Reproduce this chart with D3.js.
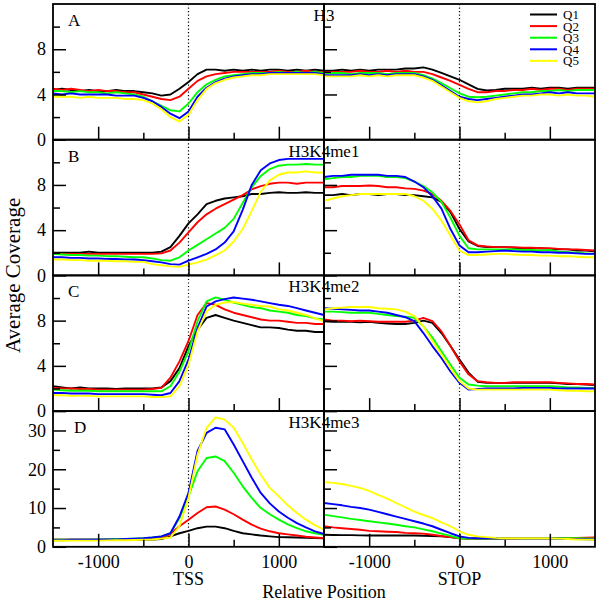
<!DOCTYPE html>
<html>
<head>
<meta charset="utf-8">
<script src="https://cdn.jsdelivr.net/npm/d3@7"></script>
<style>
  body { margin: 0; background: #fff; }
  text { font-family: "Liberation Serif", "DejaVu Serif", serif; fill: #000; }
</style>
</head>
<body>
<div id="chart"></div>
<script>
// positions relative to TSS / STOP (bp)
var positions = [-1500,-1400,-1300,-1200,-1100,-1000,-900,-800,-700,-600,-500,-400,-300,-200,-100,0,
                 100,200,300,400,500,600,700,800,900,1000,1100,1200,1300,1400,1500];

var quintiles = ["Q1", "Q2", "Q3", "Q4", "Q5"];
var quintileColors = ["#000000", "#ff0000", "#00ff00", "#0000ff", "#ffff00"];
var marks = ["H3", "H3K4me1", "H3K4me2", "H3K4me3"];
var panelLetters = ["A", "B", "C", "D"];
var anchorLabels = ["TSS", "STOP"];

var yDomainMax = [12, 12, 12, 35];
var yMajorTicks = [[0,4,8], [0,4,8], [0,4,8], [0,10,20,30]];
var yMinorTicks = [[2,6,10], [2,6,10], [2,6,10], [5,15,25]];
var xMajorTicks = [-1000, 0, 1000];
var xMinorTicks = [-500, 500];

// H3 (A)
var h3Tss = [
  [4.4,4.5,4.4,4.3,4.4,4.3,4.3,4.4,4.3,4.3,4.2,4.1,3.9,4.0,4.5,5.1,5.8,6.2,6.2,6.1,6.2,6.1,6.2,6.1,6.2,6.2,6.1,6.2,6.1,6.2,6.1],
  [4.5,4.4,4.5,4.4,4.3,4.4,4.3,4.3,4.2,4.2,4.0,3.8,3.6,3.5,3.8,4.5,5.2,5.6,5.8,5.9,6.0,6.0,6.0,6.0,6.0,6.1,6.0,6.0,6.1,6.0,6.0],
  [4.3,4.3,4.2,4.3,4.2,4.2,4.1,4.2,4.1,4.0,3.8,3.4,3.0,2.6,2.5,3.2,4.2,4.9,5.3,5.6,5.7,5.8,5.9,5.9,5.9,6.0,5.9,6.0,5.9,6.0,5.9],
  [4.1,4.0,4.1,4.0,4.0,4.0,4.0,3.9,3.9,3.9,3.7,3.4,2.9,2.3,1.9,2.5,3.8,4.6,5.1,5.4,5.6,5.7,5.8,5.8,5.9,5.9,5.9,5.9,5.9,5.9,5.8],
  [3.8,3.8,3.8,3.7,3.8,3.7,3.7,3.7,3.6,3.6,3.5,3.2,2.7,2.0,1.6,2.2,3.5,4.5,5.0,5.3,5.5,5.6,5.7,5.7,5.8,5.8,5.8,5.8,5.8,5.8,5.7]
];
var h3Stop = [
  [6.1,6.1,6.2,6.1,6.2,6.1,6.2,6.2,6.2,6.3,6.3,6.4,6.2,5.9,5.6,5.3,4.9,4.5,4.35,4.4,4.5,4.5,4.5,4.6,4.5,4.6,4.6,4.5,4.6,4.6,4.6],
  [6.0,6.0,6.0,6.0,6.1,6.0,6.0,6.1,6.0,6.1,6.0,6.0,5.8,5.5,5.2,4.85,4.5,4.2,4.2,4.3,4.3,4.4,4.4,4.5,4.4,4.5,4.5,4.4,4.5,4.5,4.5],
  [5.9,5.9,5.9,5.8,5.9,5.9,5.9,5.8,5.9,5.9,5.9,5.7,5.4,5.0,4.55,4.1,3.8,3.75,3.8,3.9,4.0,4.1,4.2,4.2,4.3,4.3,4.4,4.3,4.4,4.4,4.4],
  [5.7,5.7,5.7,5.7,5.8,5.7,5.8,5.7,5.8,5.8,5.8,5.6,5.3,4.8,4.3,3.8,3.6,3.5,3.6,3.7,3.8,3.9,4.0,4.0,4.1,4.2,4.1,4.2,4.1,4.1,4.1],
  [5.6,5.6,5.6,5.6,5.7,5.6,5.7,5.6,5.7,5.7,5.7,5.5,5.2,4.7,4.2,3.7,3.4,3.3,3.4,3.6,3.7,3.8,3.9,3.9,4.0,4.0,3.9,4.0,3.9,3.9,3.8]
];

// H3K4me1 (B)
var me1Tss = [
  [2.0,2.0,2.0,2.0,2.1,2.0,2.0,2.0,2.0,2.0,2.0,2.0,2.1,2.5,3.5,4.6,5.4,6.3,6.6,6.8,6.9,7.0,7.2,7.2,7.3,7.35,7.3,7.3,7.35,7.3,7.3],
  [1.9,1.9,1.9,1.9,1.9,1.9,1.9,1.9,1.9,1.9,1.9,1.9,1.95,2.2,2.9,3.8,4.7,5.4,5.9,6.3,6.7,7.1,7.6,7.9,8.1,8.2,8.2,8.1,8.2,8.2,8.2],
  [1.9,1.85,1.8,1.8,1.75,1.75,1.7,1.7,1.65,1.6,1.6,1.5,1.35,1.3,1.6,2.2,2.7,3.2,3.7,4.2,5.0,6.4,7.8,8.8,9.4,9.7,9.8,9.8,9.85,9.8,9.8],
  [1.6,1.6,1.55,1.55,1.5,1.5,1.45,1.45,1.4,1.4,1.35,1.25,1.15,1.0,0.95,1.3,1.6,1.9,2.3,2.9,3.9,5.8,8.0,9.3,9.9,10.2,10.3,10.3,10.3,10.3,10.3],
  [1.4,1.4,1.35,1.35,1.3,1.3,1.3,1.25,1.25,1.2,1.2,1.0,0.9,0.8,0.75,0.95,1.15,1.4,1.8,2.2,3.0,4.1,5.7,7.4,8.4,8.9,9.1,9.1,9.2,9.1,9.1]
];
var me1Stop = [
  [7.1,7.1,7.2,7.1,7.2,7.2,7.1,7.2,7.2,7.1,7.1,7.0,6.9,6.5,5.6,4.1,3.0,2.6,2.5,2.5,2.5,2.45,2.4,2.4,2.4,2.35,2.3,2.3,2.2,2.2,2.1],
  [7.8,7.8,7.9,7.9,7.9,7.95,7.9,7.8,7.8,7.7,7.65,7.5,7.2,6.6,5.7,4.5,3.1,2.65,2.55,2.5,2.5,2.5,2.45,2.45,2.4,2.4,2.35,2.3,2.3,2.25,2.2],
  [8.5,8.6,8.7,8.7,8.8,8.8,8.8,8.7,8.7,8.6,8.3,7.9,7.35,6.5,5.1,3.5,2.4,2.3,2.3,2.3,2.3,2.3,2.25,2.25,2.2,2.25,2.1,2.05,2.0,1.95,1.9],
  [8.7,8.8,8.8,8.9,8.9,8.9,8.9,8.8,8.8,8.7,8.3,7.8,7.0,5.9,4.1,2.65,2.05,2.05,2.1,2.15,2.2,2.15,2.1,2.1,2.05,2.05,2.0,2.0,1.95,1.9,1.9],
  [6.6,6.8,7.0,7.1,7.2,7.2,7.2,7.2,7.2,7.2,7.0,6.6,5.9,4.85,3.5,2.2,1.8,1.8,1.85,1.9,1.9,1.85,1.8,1.8,1.75,1.75,1.7,1.7,1.65,1.6,1.6]
];

// H3K4me2 (C)
var me2Tss = [
  [2.2,2.1,2.0,2.1,2.0,2.0,2.0,1.95,2.0,2.0,2.0,2.0,2.1,2.65,3.8,5.75,7.2,8.25,8.5,8.25,8.0,7.8,7.6,7.4,7.4,7.35,7.2,7.1,7.1,7.0,7.0],
  [2.05,2.0,2.0,1.95,1.95,1.9,1.9,1.9,1.9,1.9,1.9,1.95,2.05,2.95,4.4,6.2,8.5,9.55,9.4,9.0,8.7,8.5,8.3,8.1,8.0,8.0,7.9,7.8,7.8,7.7,7.7],
  [1.9,1.85,1.8,1.8,1.8,1.75,1.75,1.75,1.75,1.75,1.75,1.75,1.75,2.2,3.5,5.3,7.95,9.7,10.05,9.85,9.6,9.4,9.2,9.1,8.9,8.8,8.7,8.5,8.4,8.2,8.1],
  [1.6,1.6,1.55,1.55,1.55,1.5,1.5,1.5,1.5,1.5,1.5,1.45,1.4,1.6,2.65,4.55,7.35,9.25,9.7,9.9,10.05,9.95,9.85,9.7,9.55,9.4,9.3,9.1,8.9,8.7,8.5],
  [1.4,1.4,1.35,1.35,1.35,1.3,1.3,1.3,1.3,1.3,1.3,1.25,1.25,1.3,2.2,4.1,7.05,8.8,9.4,9.6,9.65,9.5,9.4,9.3,9.25,9.0,8.9,8.7,8.5,8.2,7.95]
];
var me2Stop = [
  [7.95,7.9,7.9,7.9,7.85,7.9,7.8,7.75,7.7,7.7,7.8,8.0,7.8,6.9,5.75,4.55,3.4,2.6,2.5,2.5,2.5,2.5,2.5,2.5,2.5,2.5,2.45,2.4,2.4,2.35,2.3],
  [8.1,8.0,8.0,7.95,8.0,7.95,7.9,7.9,7.9,7.9,8.0,8.25,7.95,7.05,5.75,4.4,3.25,2.65,2.55,2.5,2.5,2.55,2.55,2.55,2.55,2.55,2.5,2.45,2.4,2.4,2.35],
  [8.8,8.8,8.75,8.7,8.7,8.7,8.6,8.5,8.4,8.35,8.25,7.5,6.5,5.3,4.1,2.95,2.35,2.25,2.2,2.2,2.2,2.2,2.2,2.2,2.2,2.2,2.15,2.1,2.1,2.05,2.05],
  [9.1,9.05,9.0,8.95,8.9,8.9,8.8,8.7,8.5,8.3,7.95,6.9,5.75,4.7,3.5,2.5,1.9,1.95,2.0,2.0,2.0,2.0,2.05,2.05,2.05,2.05,2.0,2.0,2.0,2.0,2.0],
  [9.0,9.1,9.15,9.2,9.2,9.2,9.1,9.05,9.0,8.8,8.4,7.5,6.2,5.0,3.8,2.65,2.0,1.9,1.9,1.9,1.9,1.9,1.9,1.9,1.9,1.9,1.85,1.8,1.8,1.75,1.75]
];

// H3K4me3 (D)
var me3Tss = [
  [1.8,1.8,1.8,1.8,1.8,1.8,1.8,1.8,1.8,1.8,1.8,1.9,2.0,2.7,3.5,4.1,4.8,5.2,5.2,4.8,4.1,3.5,3.2,2.9,2.7,2.5,2.45,2.4,2.3,2.25,2.2],
  [1.8,1.8,1.8,1.8,1.8,1.8,1.8,1.85,1.9,1.9,2.0,2.1,2.4,3.3,5.3,7.0,8.7,10.2,10.4,9.6,8.4,7.0,5.7,4.7,4.0,3.5,3.2,2.9,2.6,2.4,2.2],
  [1.8,1.8,1.8,1.8,1.8,1.9,1.9,2.0,2.0,2.1,2.2,2.4,2.7,3.5,7.4,13.0,19.5,22.9,23.3,22.1,19.1,15.6,12.6,10.0,8.4,7.0,5.8,4.8,4.0,3.5,3.1],
  [1.7,1.7,1.8,1.8,1.8,1.8,1.9,1.9,2.0,2.1,2.2,2.4,2.7,3.5,7.8,13.9,24.7,29.4,30.7,30.3,26.4,22.1,17.8,13.9,11.2,9.1,7.5,6.1,5.0,4.0,3.3],
  [1.55,1.55,1.6,1.6,1.6,1.6,1.65,1.7,1.7,1.75,1.8,1.9,2.1,2.4,5.3,12.6,23.8,30.7,33.4,32.8,30.7,26.8,22.5,18.6,15.2,13.0,10.7,8.7,7.0,5.6,4.4]
];
var me3Stop = [
  [3.1,3.05,3.0,3.0,2.95,2.9,2.9,2.9,2.9,2.9,2.9,2.85,2.8,2.7,2.5,2.2,2.1,2.1,2.1,2.15,2.2,2.2,2.2,2.2,2.2,2.2,2.2,2.2,2.2,2.2,2.2],
  [5.3,5.0,4.8,4.6,4.4,4.1,4.0,3.9,3.8,3.6,3.5,3.4,3.1,2.8,2.5,2.2,2.1,2.1,2.1,2.1,2.1,2.15,2.2,2.2,2.2,2.2,2.3,2.3,2.3,2.35,2.4],
  [8.3,7.9,7.6,7.2,6.9,6.6,6.3,6.0,5.7,5.3,5.0,4.5,4.0,3.4,2.8,2.2,2.1,2.1,2.1,2.15,2.2,2.2,2.2,2.2,2.2,2.2,2.2,2.25,2.2,2.15,2.1],
  [11.3,11.0,10.7,10.3,10.0,9.6,9.0,8.4,7.8,7.2,6.6,6.0,5.3,4.4,3.5,2.7,2.3,2.2,2.2,2.2,2.2,2.2,2.2,2.2,2.2,2.2,2.1,2.0,2.0,1.95,1.9],
  [16.7,16.5,16.2,15.7,15.2,14.4,13.4,12.4,11.3,10.2,9.1,8.2,7.4,6.3,5.3,4.0,3.1,2.7,2.5,2.3,2.2,2.2,2.2,2.2,2.2,2.2,2.1,2.0,1.9,1.85,1.8]
];

var panelData = [[h3Tss, h3Stop], [me1Tss, me1Stop], [me2Tss, me2Stop], [me3Tss, me3Stop]];

var width = 600, height = 603;
var plotLeft = 53, plotMid = 324, plotRight = 595;
var plotTop = 4, rowH = 135.7;

var svg = d3.select("#chart").append("svg")
    .attr("width", width)
    .attr("height", height);

var xScales = [
  d3.scaleLinear().domain([-1500, 1500]).range([plotLeft, plotMid]),
  d3.scaleLinear().domain([-1500, 1500]).range([plotMid, plotRight])
];

var plainNum = function(d) { return String(d); };
var noLabel = function() { return ""; };

panelData.forEach(function(row, r) {
  var y0 = plotTop + r * rowH;
  var y = d3.scaleLinear().domain([0, yDomainMax[r]]).range([y0 + rowH, y0]);

  row.forEach(function(series, c) {
    var x = xScales[c];
    var g = svg.append("g").attr("class", "panel");

    // dotted line at TSS / STOP
    g.append("line")
        .attr("x1", x(0)).attr("x2", x(0))
        .attr("y1", y0).attr("y2", y0 + rowH)
        .attr("stroke", "#000")
        .attr("stroke-width", 1.2)
        .attr("stroke-dasharray", "1.2,2.3");

    var line = d3.line()
        .x(function(d, i) { return x(positions[i]); })
        .y(function(d) { return y(d); });

    series.forEach(function(vals, q) {
      g.append("path")
          .datum(vals)
          .attr("fill", "none")
          .attr("stroke", quintileColors[q])
          .attr("stroke-width", 1.9)
          .attr("stroke-linejoin", "round")
          .attr("d", line);
    });

    // ticks point inward
    var yMajor = d3.axisLeft(y).tickValues(yMajorTicks[r]).tickSizeInner(-13).tickSizeOuter(0).tickPadding(7)
        .tickFormat(c === 0 ? plainNum : noLabel);
    var yMinor = d3.axisLeft(y).tickValues(yMinorTicks[r]).tickSizeInner(-7).tickSizeOuter(0).tickFormat(noLabel);
    var xMajor = d3.axisBottom(x).tickValues(xMajorTicks).tickSizeInner(-13).tickSizeOuter(0).tickPadding(8)
        .tickFormat(r === 3 ? plainNum : noLabel);
    var xMinor = d3.axisBottom(x).tickValues(xMinorTicks).tickSizeInner(-7).tickSizeOuter(0).tickFormat(noLabel);

    [yMajor, yMinor].forEach(function(ax) {
      var a = g.append("g").attr("transform", "translate(" + x.range()[0] + ",0)").call(ax);
      a.select(".domain").remove();
      a.selectAll("line").attr("stroke-width", 1.5);
      a.selectAll("text").style("font-size", "18px").attr("fill", "#000")
          .attr("font-family", "Liberation Serif, DejaVu Serif, serif");
    });
    [xMajor, xMinor].forEach(function(ax) {
      var a = g.append("g").attr("transform", "translate(0," + (y0 + rowH) + ")").call(ax);
      a.select(".domain").remove();
      a.selectAll("line").attr("stroke-width", 1.5);
      a.selectAll("text").style("font-size", "18px").attr("fill", "#000")
          .attr("font-family", "Liberation Serif, DejaVu Serif, serif");
    });

    // frame
    g.append("rect")
        .attr("x", x.range()[0]).attr("y", y0)
        .attr("width", x.range()[1] - x.range()[0]).attr("height", rowH)
        .attr("fill", "none")
        .attr("stroke", "#000")
        .attr("stroke-width", 1.8);
  });

  svg.append("text")
      .attr("x", r === 3 ? 74 : 68)
      .attr("y", y0 + 22)
      .style("font-size", "17px")
      .text(panelLetters[r]);

  svg.append("text")
      .attr("x", plotMid)
      .attr("y", y0 + 17)
      .attr("text-anchor", "middle")
      .style("font-size", "17px")
      .text(marks[r]);
});

// legend
var legend = svg.append("g").attr("class", "legend");
quintiles.forEach(function(q, i) {
  var ly = 14.5 + i * 11.6;
  legend.append("line")
      .attr("x1", 530).attr("x2", 557)
      .attr("y1", ly).attr("y2", ly)
      .attr("stroke", quintileColors[i])
      .attr("stroke-width", 2);
  legend.append("text")
      .attr("x", 563)
      .attr("y", ly + 4.5)
      .style("font-size", "13px")
      .text(q);
});

// axis titles
anchorLabels.forEach(function(lbl, c) {
  svg.append("text")
      .attr("x", xScales[c](0))
      .attr("y", 585)
      .attr("text-anchor", "middle")
      .style("font-size", "18px")
      .text(lbl);
});

svg.append("text")
    .attr("x", plotMid)
    .attr("y", 598)
    .attr("text-anchor", "middle")
    .style("font-size", "18px")
    .text("Relative Position");

svg.append("text")
    .attr("transform", "translate(20," + (plotTop + 2 * rowH) + ") rotate(-90)")
    .attr("text-anchor", "middle")
    .style("font-size", "21px")
    .text("Average Coverage");
</script>
</body>
</html>
